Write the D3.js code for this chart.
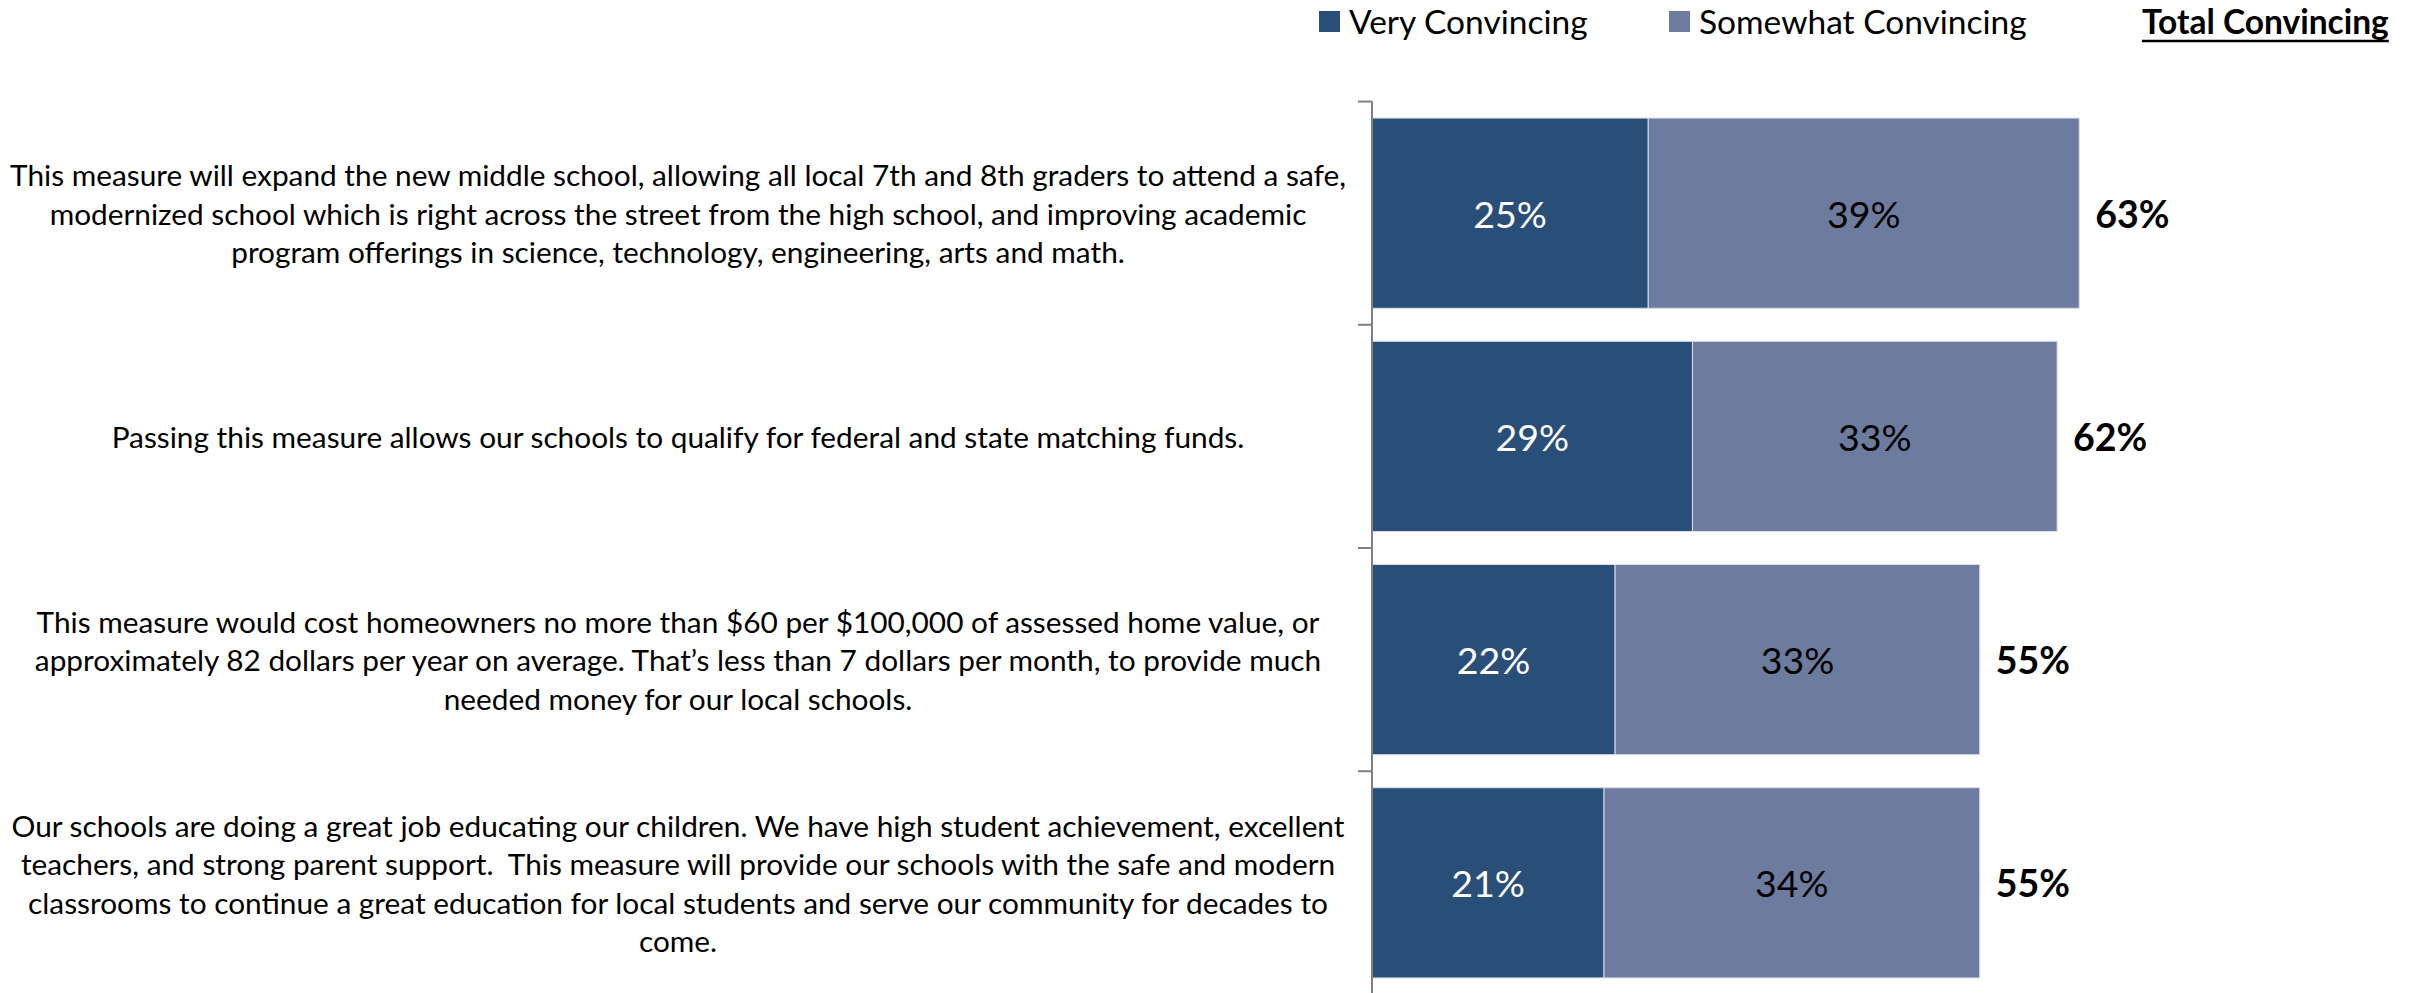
<!DOCTYPE html>
<html>
<head>
<meta charset="utf-8">
<script src="https://cdn.jsdelivr.net/npm/d3@7/dist/d3.min.js"></script>
<style>
  html, body { margin: 0; padding: 0; background: #ffffff; }
  svg { display: block; }
</style>
</head>
<body>
<svg id="chart" width="2425" height="993"></svg>
<script>
// ---- data ----
const categories = [
  ["This measure will expand the new middle school, allowing all local 7th and 8th graders to attend a safe,",
   "modernized school which is right across the street from the high school, and improving academic",
   "program offerings in science, technology, engineering, arts and math."],
  ["Passing this measure allows our schools to qualify for federal and state matching funds."],
  ["This measure would cost homeowners no more than $60 per $100,000 of assessed home value, or",
   "approximately 82 dollars per year on average. That\u2019s less than 7 dollars per month, to provide much",
   "needed money for our local schools."],
  ["Our schools are doing a great job educating our children. We have high student achievement, excellent",
   "teachers, and strong parent support.  This measure will provide our schools with the safe and modern",
   "classrooms to continue a great education for local students and serve our community for decades to",
   "come."]
];
const veryConvincing = [25, 29, 22, 21];
const somewhatConvincing = [39, 33, 33, 34];
const totalConvincing = [63, 62, 55, 55];
const seriesNames = ["Very Convincing", "Somewhat Convincing"];
const totalTitle = "Total Convincing";

// ---- styles ----
const colors = ["#294f78", "#6d7b9e"];
const fontFamily = "Lato, 'Open Sans', sans-serif";

const svg = d3.select("#chart");
const ids = categories.map((c, i) => i);

const y = d3.scaleBand()
  .domain(ids)
  .range([102, 994])
  .paddingInner(0.148)
  .paddingOuter(0.072);

const x = d3.scaleLinear()
  .domain([0, 100])
  .range([1372, 2477]);

const rows = ids.map(i => ({
  i,
  very: veryConvincing[i],
  somewhat: somewhatConvincing[i],
  total: totalConvincing[i]
}));

const stack = d3.stack().keys(["very", "somewhat"]);
const stacked = stack(rows);

// bars
const layers = svg.append("g").selectAll("g")
  .data(stacked)
  .join("g")
  .attr("fill", (d, k) => colors[k]);

layers.selectAll("rect")
  .data(d => d)
  .join("rect")
  .attr("x", d => x(d[0]))
  .attr("y", d => y(d.data.i))
  .attr("width", d => x(d[1]) - x(d[0]))
  .attr("height", y.bandwidth())
  .attr("stroke", "#d8dde8")
  .attr("stroke-width", 1);

// value labels inside bars
layers.selectAll("text")
  .data((d, k) => d.map(v => ({ v, k, key: d.key })))
  .join("text")
  .attr("x", d => (x(d.v[0]) + x(d.v[1])) / 2)
  .attr("y", d => y(d.v.data.i) + y.bandwidth() / 2)
  .attr("text-anchor", "middle")
  .attr("dominant-baseline", "central")
  .attr("font-family", fontFamily)
  .attr("font-size", 37.5)
  .attr("fill", d => d.k === 0 ? "#ffffff" : "#000000")
  .text(d => d.v.data[d.key] + "%");

// totals
svg.append("g").selectAll("text")
  .data(rows)
  .join("text")
  .attr("x", d => x(d.very + d.somewhat) + 16)
  .attr("y", d => y(d.i) + y.bandwidth() / 2)
  .attr("dominant-baseline", "central")
  .attr("font-family", fontFamily)
  .attr("font-size", 37.5)
  .attr("font-weight", "bold")
  .attr("fill", "#000")
  .text(d => d.total + "%");

// axis line with ticks at category boundaries
const half = (y.step() - y.bandwidth()) / 2;
const boundaries = ids.map(i => y(i) - half).concat([y(ids[ids.length - 1]) + y.bandwidth() + half]);
const axisG = svg.append("g");
axisG.append("line")
  .attr("x1", x(0)).attr("x2", x(0))
  .attr("y1", boundaries[0]).attr("y2", boundaries[boundaries.length - 1])
  .attr("stroke", "#808080").attr("stroke-width", 2);
axisG.selectAll("line.tick")
  .data(boundaries)
  .join("line")
  .attr("class", "tick")
  .attr("x1", x(0) - 14).attr("x2", x(0))
  .attr("y1", d => d).attr("y2", d => d)
  .attr("stroke", "#808080").attr("stroke-width", 2);

// category labels
const lineH = 38.5;
const catG = svg.append("g").selectAll("text")
  .data(ids)
  .join("text")
  .attr("text-anchor", "middle")
  .attr("font-family", fontFamily)
  .attr("font-size", 29.8)
  .attr("fill", "#000");
catG.selectAll("tspan")
  .data(i => categories[i].map((t, j) => ({ t, j, n: categories[i].length, i })))
  .join("tspan")
  .attr("x", 678)
  .attr("y", d => y(d.i) + y.bandwidth() / 2 + (d.j - (d.n - 1) / 2) * lineH)
  .attr("dominant-baseline", "central")
  .style("white-space", "pre")
  .text(d => d.t);

// legend
const legendX = [1319, 1669];
const legend = svg.append("g");
seriesNames.forEach((name, k) => {
  legend.append("rect")
    .attr("x", legendX[k]).attr("y", 11)
    .attr("width", 21).attr("height", 21)
    .attr("fill", colors[k]);
  legend.append("text")
    .attr("x", legendX[k] + 30).attr("y", 34)
    .attr("font-family", fontFamily)
    .attr("font-size", 33.5)
    .attr("fill", "#000")
    .text(name);
});
const tt = legend.append("text")
  .attr("x", 2142).attr("y", 34)
  .attr("font-family", fontFamily)
  .attr("font-size", 33.5)
  .attr("font-weight", "bold")
  .attr("fill", "#000")
  .text(totalTitle);
const tw = tt.node().getComputedTextLength();
legend.append("line")
  .attr("x1", 2142).attr("x2", 2142 + tw)
  .attr("y1", 41).attr("y2", 41)
  .attr("stroke", "#000").attr("stroke-width", 2.5);
</script>
</body>
</html>
